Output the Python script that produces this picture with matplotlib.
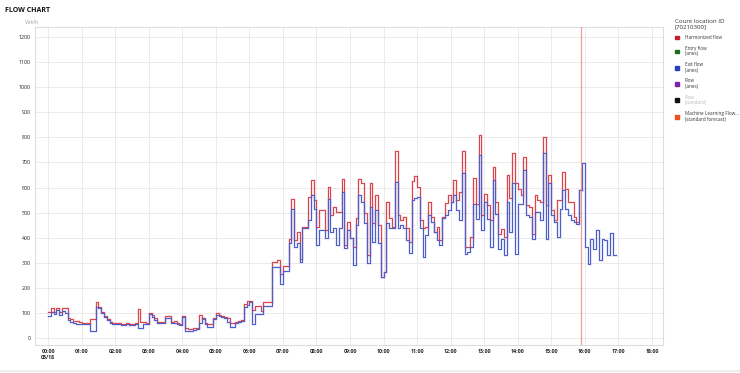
import numpy as np
import matplotlib
matplotlib.use("Agg")
import matplotlib.pyplot as plt
from matplotlib.patches import Patch

plt.rcParams['font.family'] = ['Open Sans', 'DejaVu Sans']

# 5-minute values, veh/h, starting 00:00 on 05/18
harmonized = (
    [105,118,103,118,103,118,118,80,76,69,69,62] +
    [59,59,59,76,76,143,125,103,88,76,62,59] +
    [59,59,57,57,59,57,57,59,116,62,62,59] +
    [100,92,80,65,62,63,89,89,63,69,58,56] +
    [89,40,36,36,38,40,92,76,58,56,56,80] +
    [98,92,88,85,80,60,60,63,66,70,136,149] +
    [149,110,129,129,109,145,145,145,303,303,309,256] +
    [289,289,396,556,389,423,316,443,443,563,629,549] +
    [443,509,509,429,603,491,524,504,504,633,371,464] +
    [397,364,477,633,617,497,331,617,457,571,451,244] +
    [264,544,477,444,744,491,471,484,437,384,624,644] +
    [604,471,437,444,544,484,424,444,391,484,537,571] +
    [544,628,551,584,744,363,363,403,636,536,809,489] +
    [576,529,469,683,543,416,436,403,649,560,736,616] +
    [596,569,723,529,523,416,569,549,543,803,529,649] +
    [509,469,549,549,663,596,543,543,483,463,589]
)
exit_flow = (
    [88,105,95,110,92,108,100,70,65,60,55,55] +
    [55,55,55,29,29,122,118,100,85,70,58,55] +
    [55,55,53,53,55,53,53,55,40,40,55,55] +
    [95,85,70,60,58,58,80,80,58,60,55,52] +
    [85,29,29,29,33,36,60,80,56,45,45,76] +
    [92,88,82,78,65,43,43,58,62,66,122,130] +
    [143,56,96,96,96,129,129,129,283,283,283,216] +
    [269,269,380,516,363,380,303,440,440,469,569,516] +
    [369,429,429,400,556,424,440,371,440,584,357,430] +
    [397,291,450,571,544,460,297,524,384,511,377,244] +
    [264,457,437,437,620,437,451,437,391,337,551,560] +
    [561,437,324,411,491,464,424,391,371,477,491,511] +
    [544,571,511,471,656,336,343,363,536,476,729,429] +
    [543,476,363,629,496,356,396,329,543,423,616,336] +
    [536,536,669,489,483,396,503,503,469,736,396,616] +
    [489,463,403,516,589,516,489,469,463,456,589,696] +
    [363,296,396,356,429,309,396,389,329,417,329]
)
now_hour = 15.9
hour_ticks = list(range(0, 19))
hour_labels = ["00:00\n05/18"] + [f"{h:02d}:00" for h in range(1, 19)]
y_ticks = list(range(0, 1300, 100))

legend_labels = ["Harmonized flow", "Entry flow\n(lanes)", "Exit flow\n(lanes)",
                 "Flow\n(lanes)", "Flow\n(standard)",
                 "Machine Learning Flow...\n(standard forecast)"]
legend_colors = ["#c0222c", "#1d6b22", "#2b40b8", "#7b22a8", "#111111", "#f0501e"]

RED = "#d9434a"
BLUE = "#4c5cc9"

fig = plt.figure(figsize=(7.4, 3.73), dpi=100)
ax = fig.add_axes([35/740, 1-345/373, (663-35)/740, (345-27)/373])

def steps(vals):
    t = np.arange(len(vals) + 1) / 12.0
    v = np.array(vals + [vals[-1]], dtype=float)
    return t, v

for vals, col in ((harmonized, RED), (exit_flow, BLUE)):
    t, v = steps(vals)
    ax.step(t, v, where='post', color=col, lw=2.2, alpha=0.12, zorder=3)
    ax.step(t, v, where='post', color=col, lw=0.75, zorder=4)

ax.axvline(now_hour, color="#f07a7a", lw=0.9, alpha=0.75, zorder=5)

ax.set_xlim(-0.39, 18.33)
ax.set_ylim(-28, 1240)
ax.set_xticks(hour_ticks)
ax.set_xticklabels(hour_labels, fontsize=3.8, fontweight='bold', color="#222222")
ax.set_yticks(y_ticks)
ax.set_yticklabels([str(v) for v in y_ticks], fontsize=3.8, color="#222222")
ax.tick_params(axis='both', length=0, pad=3)
ax.grid(True, color="#e8e8e8", lw=0.6)
ax.set_axisbelow(True)
for s in ax.spines.values():
    s.set_color("#dddddd")
    s.set_linewidth(0.8)

fig.text(5/740, 1-11/373, "FLOW CHART", fontsize=5, fontweight='bold',
         color="#111111", va='center', ha='left')
fig.text(25/740, 1-22/373, "Veh/h", fontsize=3.5, color="#999999",
         va='center', ha='left')

handles = [Patch(facecolor=c, edgecolor=c) for c in legend_colors]
leg = fig.legend(handles, legend_labels, loc='upper left',
                 bbox_to_anchor=(673/740, 1-17/373), frameon=False,
                 fontsize=3.3, title="Count location ID\n[70210300]",
                 title_fontsize=4.4, handlelength=0.9, handleheight=0.9,
                 handletextpad=1.3, labelspacing=1.2, alignment='left',
                 borderaxespad=0)
leg.get_title().set_color("#333333")
for i, txt in enumerate(leg.get_texts()):
    txt.set_color("#bbbbbb" if i == 4 else "#333333")

fig.add_artist(plt.Line2D([0, 1], [1-371/373, 1-371/373], color="#eeeeee", lw=1.5))

fig.savefig("out.png", dpi=100)
